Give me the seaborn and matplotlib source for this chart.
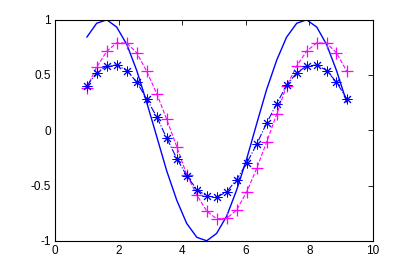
import numpy as np
import pandas as pd
import matplotlib
matplotlib.use("Agg")
import matplotlib.pyplot as plt
import seaborn as sns

x_vals = [1.00, 1.31, 1.63, 1.94, 2.26, 2.57, 2.88, 3.20, 3.51, 3.83, 4.14, 4.46, 4.77,
          5.08, 5.40, 5.71, 6.03, 6.34, 6.65, 6.97, 7.28, 7.60, 7.91, 8.23, 8.54, 8.85, 9.17]
solid_vals = [0.841, 0.967, 0.998, 0.932, 0.774, 0.540, 0.255, -0.058, -0.365, -0.633, -0.841,
              -0.967, -0.998, -0.932, -0.774, -0.540, -0.255, 0.058, 0.365, 0.633, 0.841,
              0.967, 0.998, 0.932, 0.774, 0.540, 0.255]
star_vals = [0.40, 0.52, 0.58, 0.59, 0.54, 0.435, 0.285, 0.12, -0.07, -0.255, -0.41, -0.535,
             -0.595, -0.605, -0.555, -0.445, -0.295, -0.126, 0.063, 0.24, 0.405, 0.52, 0.58,
             0.59, 0.54, 0.435, 0.285]
plus_vals = [0.385, 0.57, 0.715, 0.79, 0.787, 0.70, 0.535, 0.33, 0.10, -0.15, -0.40, -0.585,
             -0.73, -0.80, -0.795, -0.72, -0.555, -0.345, -0.11, 0.145, 0.40, 0.58, 0.715,
             0.79, 0.787, 0.70, 0.535]
xticks = [0, 2, 4, 6, 8, 10]
yticks = [-1, -0.5, 0, 0.5, 1]
ytick_labels = ["-1", "-0.5", "0", "0.5", "1"]

df = pd.DataFrame({"x": x_vals, "solid": solid_vals, "star": star_vals, "plus": plus_vals})

sns.set_style("white")
plt.rcParams["font.family"] = ["Liberation Sans", "DejaVu Sans"]

fig = plt.figure(figsize=(4.12, 2.72), dpi=100)
ax = fig.add_axes([0.1335, 0.114, 0.772, 0.814])

sns.lineplot(data=df, x="x", y="solid", ax=ax, color="#0000ff", linewidth=1.0, sort=False)
sns.lineplot(data=df, x="x", y="plus", ax=ax, color="#ff00ff", linewidth=0.8, linestyle="--",
             marker="+", markersize=9, markeredgewidth=0.9, markeredgecolor="#ff00ff",
             dashes=False, sort=False)
sns.lineplot(data=df, x="x", y="star", ax=ax, color="#0000ff", linewidth=0.8, linestyle="-.",
             marker=(8, 2, 0), markersize=7, markeredgewidth=0.7, markeredgecolor="#0000ff",
             dashes=False, sort=False)

ax.set_xlim(0, 10)
ax.set_ylim(-1, 1)
ax.set_xticks(xticks)
ax.set_xticklabels([str(t) for t in xticks])
ax.set_yticks(yticks)
ax.set_yticklabels(ytick_labels)
ax.set_xlabel("")
ax.set_ylabel("")
ax.tick_params(direction="in", length=3.5, width=0.6, top=True, right=True,
               labelsize=8.5, colors="black", pad=3)
for s in ax.spines.values():
    s.set_visible(True)
    s.set_color("black")
    s.set_linewidth(0.8)

fig.savefig("out.png", dpi=100, facecolor="white")
